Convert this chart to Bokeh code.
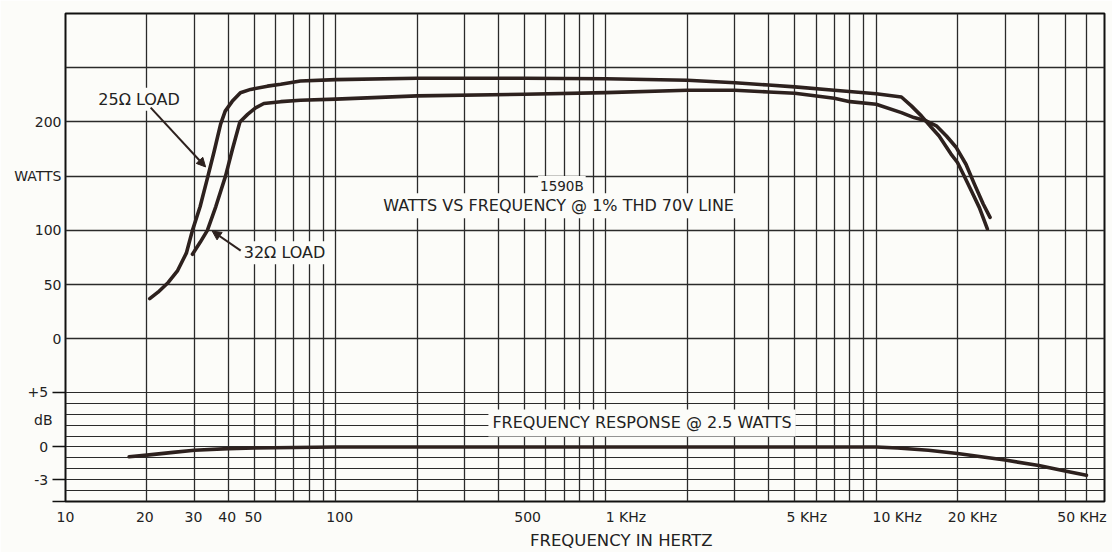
from bokeh.plotting import figure
from bokeh.models import (Range1d, LinearAxis, LogAxis, FixedTicker, Grid, Label, Arrow,
                          NormalHead)
from bokeh.embed import file_html
from bokeh.resources import INLINE

# ---------------- data ----------------
freq_25 = [20.5, 22, 24, 26, 28, 29.5, 31.5, 33.5, 35.5, 37.5, 39, 41.4, 44.4, 48.4,
           55.9, 62.6, 74, 100, 200, 500, 1000, 2000, 3000, 4000, 5000, 7000, 10000,
           12400, 13500, 14700, 16000, 17100, 18900, 20000, 21000, 22500, 24100, 25800]
watts_25 = [37, 43, 52, 63, 79, 100, 122, 148, 173, 198, 210, 219, 227, 230,
            233, 234.7, 237.8, 239, 240.3, 240.3, 239.9, 238.4, 236.2, 234, 232.3, 229.2, 226,
            223, 214.8, 205.6, 195, 187, 170.6, 162.6, 152, 136.5, 121, 101.3]

freq_32 = [29.5, 31.5, 33.5, 36, 39.1, 41.5, 44.2, 47.2, 50.5, 54.2, 62.6, 74, 100, 200,
           500, 1000, 2000, 3000, 4000, 5000, 7000, 8000, 10000, 12400, 13800, 15300,
           16700, 18200, 19800, 21500, 23100, 24900, 26400]
watts_32 = [78, 89, 100, 122, 150, 175, 200, 207, 213, 217, 218.7, 220, 221, 224,
            225.5, 227, 229.2, 229.2, 227.6, 226.4, 221.8, 218.7, 216.3, 208.6, 204, 201,
            196.4, 187, 176.4, 161, 142.7, 124.3, 112]

freq_resp = [17.2, 20, 25, 30, 40, 50, 70, 100, 1000, 5000, 10000, 12000, 15600, 20000,
             30000, 40000, 50000, 60000]
db_resp = [-0.9, -0.75, -0.5, -0.3, -0.15, -0.1, -0.05, 0, 0, 0, 0, -0.1, -0.3, -0.6,
           -1.2, -1.7, -2.2, -2.6]

x_tick_freqs = [10, 20, 30, 40, 50, 100, 500, 1000, 5000, 10000, 20000, 50000]
x_tick_labels = ["10", "20", "30", "40", "50", "100", "500", "1 KHz", "5 KHz",
                 "10 KHz", "20 KHz", "50 KHz"]
watts_ticks = [200, 150, 100, 50, 0]
watts_tick_labels = ["200", "WATTS", "100", "50", "0"]
db_label_ticks = [5, 2.5, 0, -3]
db_tick_labels = ["+5", "dB", "0", "-3"]
db_tick_marks = [5, 0, -3, -5]

watts_grid = [0, 50, 100, 150, 200, 250]
db_grid = [5, 4, 3, 2, 1, 0, -1, -2, -3, -4]
freq_grid = [m * 10 ** e for e in range(1, 5) for m in range(1, 10) if m * 10 ** e < 70000]

# ---------------- layout / style ----------------
X_MIN, X_MAX = 10, 70000
W_MIN, W_MAX = -150, 300
DB_MIN, DB_MAX = -5, 39.73
FRAME_W, FRAME_H = 1039, 488
PX_PER_DECADE = FRAME_W / 3.845098  # log10(70000/10)
# small horizontal nudges (px) of the printed frequency labels relative to their grid line
label_nudge_px = [0, -2, -1, -1, -1, 4, 3, 20, 12, 21, 15, 17]
x_label_pos = [f * 10 ** (d / PX_PER_DECADE) for f, d in zip(x_tick_freqs, label_nudge_px)]
XTITLE_POS = 1140
NB = "\u00a0"
db_label_pad = [3, 2, 3, 3]   # keeps the dB labels clear of their outward tick marks
TICK_OUT = 13


def db_to_w(d):
    return W_MIN + (d - DB_MIN) * (W_MAX - W_MIN) / (DB_MAX - DB_MIN)


FONT = "DejaVu Sans"
INK = "#2d211e"
TXT = "#222222"
GRID = "#2a2a2a"
BG = "#fcfcf9"

p = figure(frame_width=FRAME_W, frame_height=FRAME_H, x_axis_type="log",
           x_range=Range1d(X_MIN, X_MAX), y_range=Range1d(W_MIN, W_MAX),
           x_axis_location=None, y_axis_location=None,
           output_backend="svg", toolbar_location=None,
           min_border_left=65, min_border_right=8, min_border_top=13, min_border_bottom=36,
           background_fill_color=BG, border_fill_color=BG)
p.extra_y_ranges = {"db": Range1d(DB_MIN, DB_MAX)}
p.outline_line_color = "#111111"
p.outline_line_width = 2

for g in p.grid:
    g.visible = False

p.add_layout(Grid(dimension=0, ticker=FixedTicker(ticks=freq_grid),
                  grid_line_color=GRID, grid_line_width=1.3))
p.add_layout(Grid(dimension=1, ticker=FixedTicker(ticks=watts_grid),
                  grid_line_color=GRID, grid_line_width=1.4))
p.add_layout(Grid(dimension=1, y_range_name="db", ticker=FixedTicker(ticks=db_grid),
                  grid_line_color=GRID, grid_line_width=1.2))

# left axis: watts labels plus the dB scale labels; dB tick marks drawn as outward minor ticks
y_ticks = watts_ticks + [db_to_w(d) for d in db_label_ticks]
y_labels = watts_tick_labels + [t + NB * n for t, n in zip(db_tick_labels, db_label_pad)]
yax = LinearAxis(ticker=FixedTicker(ticks=y_ticks,
                                    minor_ticks=[db_to_w(d) for d in db_tick_marks]),
                 major_label_overrides={t: l for t, l in zip(y_ticks, y_labels)},
                 major_tick_line_color=None, major_tick_out=0, major_tick_in=0,
                 minor_tick_out=TICK_OUT, minor_tick_in=0, minor_tick_line_color="#111111",
                 minor_tick_line_width=1.6,
                 axis_line_color=None, major_label_standoff=4 - TICK_OUT,
                 major_label_text_font=FONT, major_label_text_font_size="14px",
                 major_label_text_color=TXT)
p.add_layout(yax, "left")

# frequency axis (labels only)
xax = LogAxis(ticker=FixedTicker(ticks=x_label_pos),
              major_label_overrides={t: l for t, l in zip(x_label_pos, x_tick_labels)},
              major_tick_line_color=None, major_tick_out=0, major_tick_in=0,
              minor_tick_line_color=None, axis_line_color=None, major_label_standoff=7,
              major_label_text_font=FONT, major_label_text_font_size="14px",
              major_label_text_color=TXT)
p.add_layout(xax, "below")
tax = LogAxis(ticker=FixedTicker(ticks=[XTITLE_POS]),
              major_label_overrides={XTITLE_POS: "FREQUENCY IN HERTZ"},
              major_tick_line_color=None, major_tick_out=0, major_tick_in=0,
              minor_tick_line_color=None, axis_line_color=None, major_label_standoff=3,
              major_label_text_font=FONT, major_label_text_font_size="16.5px",
              major_label_text_color=TXT)
p.add_layout(tax, "below")

# curves
p.line(freq_25, watts_25, line_color=INK, line_width=3.6, line_join="round", line_cap="round")
p.line(freq_32, watts_32, line_color=INK, line_width=3.6, line_join="round", line_cap="round")
p.line(freq_resp, db_resp, y_range_name="db", line_color=INK, line_width=3.6,
       line_join="round", line_cap="round")


def lab(text, x, y, align="center", rng="default", size="15px", pad=0):
    p.add_layout(Label(x=x, y=y, text=text, text_align=align, text_baseline="middle",
                       text_font=FONT, text_font_size=size, text_color=TXT,
                       y_range_name=rng, background_fill_color=BG, padding=pad))


# annotations inside the chart
lab("1590B", 687, 141, size="13.5px", pad=2)
lab("WATTS VS FREQUENCY @ 1% THD 70V LINE", 668, 122.8, size="16px", pad=3)
lab("FREQUENCY RESPONSE @ 2.5 WATTS", 1360, 2.2, rng="db", size="16px", pad=4)
lab("25Ω LOAD", 13.0, 221, align="left", size="16px", pad=2)
lab("32Ω LOAD", 44.9, 79.4, align="left", size="16px", pad=2)

p.add_layout(Arrow(end=NormalHead(size=9, fill_color=INK, line_color=INK),
                   x_start=20.66, y_start=213.2, x_end=33.0, y_end=158.5,
                   line_color=INK, line_width=2))
p.add_layout(Arrow(end=NormalHead(size=9, fill_color=INK, line_color=INK),
                   x_start=44.5, y_start=81.3, x_end=34.9, y_end=99.4,
                   line_color=INK, line_width=2))

open("out.html", "w").write(file_html(p, INLINE))
